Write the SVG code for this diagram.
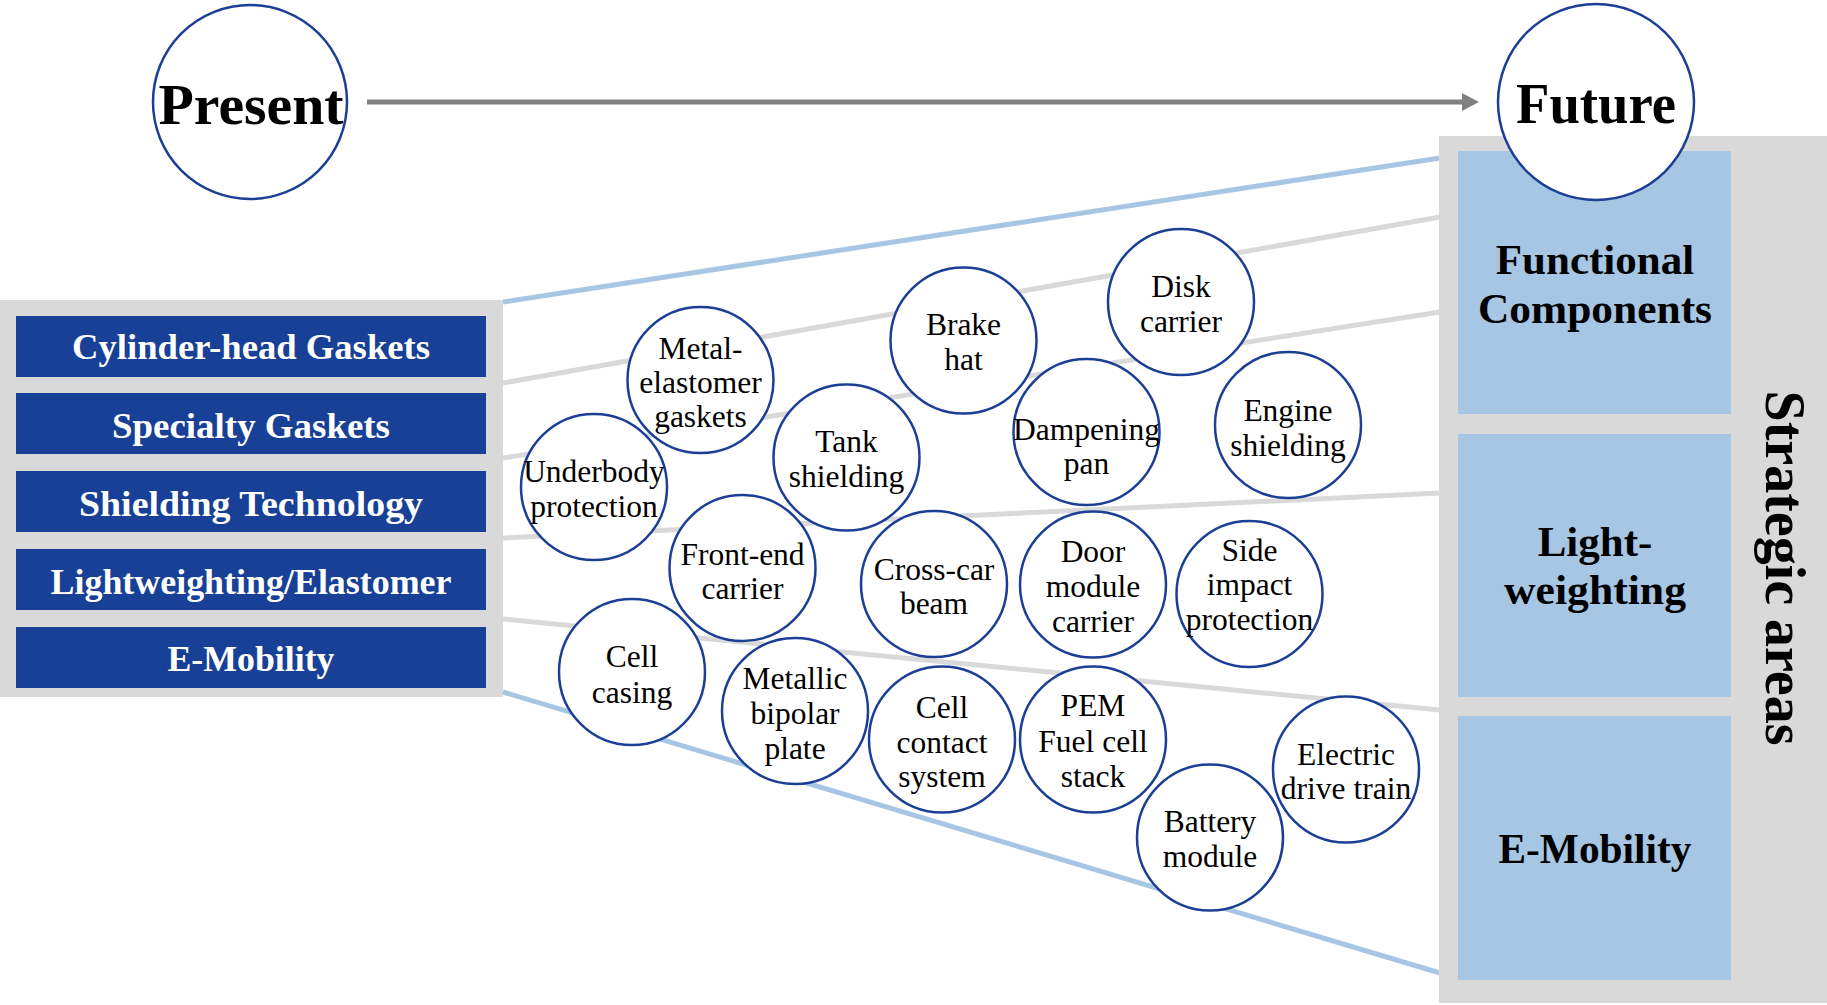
<svg xmlns="http://www.w3.org/2000/svg" width="1827" height="1005" viewBox="0 0 1827 1005">
  <style>
    text { font-family: "Liberation Serif", "Times New Roman", serif; fill: #000; text-anchor: middle; }
    .bg { fill: #D9D9D9; }
    .tech { fill: #174096; }
    .tech-label { fill: #FFFFFF; font-weight: bold; font-size: 35px; }
    .area { fill: #A7C6E3; }
    .area-label { font-weight: bold; font-size: 43px; }
    .time { fill: #FFFFFF; stroke: #1C3F96; stroke-width: 2.5; }
    .time-label { font-weight: bold; font-size: 57px; }
    .item { fill: #FFFFFF; stroke: #1C3F96; stroke-width: 2.5; }
    .item-label { font-size: 31.5px; }
    .conn-gray { stroke: #D9D9D9; stroke-width: 5; fill: none; }
    .conn-blue { stroke: #A7C6E3; stroke-width: 5; fill: none; }
    .timeline { stroke: #808080; stroke-width: 5; fill: none; }
  </style>
  <defs>
    <marker id="arrowhead" markerUnits="userSpaceOnUse" markerWidth="18" markerHeight="18" refX="1" refY="9" orient="auto">
      <path d="M0,0 L17,9 L0,18 Z" fill="#808080"/>
    </marker>
  </defs>

  <!-- funnel connectors between technology stack and strategic areas -->
  <g id="connectors">
    <line class="conn-blue" x1="503" y1="302" x2="1440" y2="158"/>
    <line class="conn-gray" x1="503" y1="383" x2="1440" y2="217"/>
    <line class="conn-gray" x1="503" y1="458" x2="1440" y2="312"/>
    <line class="conn-gray" x1="503" y1="538" x2="1440" y2="493"/>
    <line class="conn-gray" x1="503" y1="619" x2="1440" y2="710"/>
    <line class="conn-blue" x1="503" y1="692" x2="1440" y2="973"/>
    <line class="timeline" x1="367" y1="102" x2="1463" y2="102" marker-end="url(#arrowhead)"/>
  </g>

  <!-- technology stack (left) -->
  <g id="technologies">
    <rect class="bg" x="0" y="300" width="503" height="397"/>
    <g id="tech-cylinder-head">
      <rect class="tech" x="16" y="316" width="470" height="61"/>
      <text class="tech-label" x="251" y="359" textLength="358" lengthAdjust="spacingAndGlyphs">Cylinder-head Gaskets</text>
    </g>
    <g id="tech-specialty">
      <rect class="tech" x="16" y="393" width="470" height="61"/>
      <text class="tech-label" x="251" y="438" textLength="278" lengthAdjust="spacingAndGlyphs">Specialty Gaskets</text>
    </g>
    <g id="tech-shielding">
      <rect class="tech" x="16" y="471" width="470" height="61"/>
      <text class="tech-label" x="251" y="516" textLength="344" lengthAdjust="spacingAndGlyphs">Shielding Technology</text>
    </g>
    <g id="tech-lightweighting">
      <rect class="tech" x="16" y="549" width="470" height="61"/>
      <text class="tech-label" x="251" y="594" textLength="401" lengthAdjust="spacingAndGlyphs">Lightweighting/Elastomer</text>
    </g>
    <g id="tech-emobility">
      <rect class="tech" x="16" y="627" width="470" height="61"/>
      <text class="tech-label" x="251" y="671" textLength="167" lengthAdjust="spacingAndGlyphs">E-Mobility</text>
    </g>
  </g>

  <!-- strategic areas (right) -->
  <g id="strategic-areas">
    <rect class="bg" x="1439" y="136" width="388" height="867"/>
    <g id="area-functional">
      <rect class="area" x="1458" y="151" width="273" height="263"/>
      <text class="area-label" x="1595" y="274">Functional</text>
      <text class="area-label" x="1595" y="323" textLength="234" lengthAdjust="spacingAndGlyphs">Components</text>
    </g>
    <g id="area-lightweighting">
      <rect class="area" x="1458" y="434" width="273" height="263"/>
      <text class="area-label" x="1595" y="556">Light-</text>
      <text class="area-label" x="1595" y="604" textLength="182" lengthAdjust="spacingAndGlyphs">weighting</text>
    </g>
    <g id="area-emobility">
      <rect class="area" x="1458" y="716" width="273" height="264"/>
      <text class="area-label" x="1595" y="863" textLength="193" lengthAdjust="spacingAndGlyphs">E-Mobility</text>
    </g>
    <text class="time-label" transform="translate(1766,568) rotate(90)" x="0" y="0" textLength="355" lengthAdjust="spacingAndGlyphs" style="font-size:56px">Strategic areas</text>
  </g>

  <!-- timeline ends -->
  <g id="present">
    <circle class="time" cx="250" cy="102" r="97"/>
    <text class="time-label" x="251" y="124" textLength="185" lengthAdjust="spacingAndGlyphs">Present</text>
  </g>
  <g id="future">
    <circle class="time" cx="1596" cy="102" r="98"/>
    <text class="time-label" x="1596" y="123" textLength="160" lengthAdjust="spacingAndGlyphs">Future</text>
  </g>

  <!-- product bubbles -->
  <g id="metal-elastomer-gaskets">
    <circle class="item" cx="700.5" cy="380" r="73"/>
    <text class="item-label" x="700.5" y="359">Metal-</text>
    <text class="item-label" x="700.5" y="393">elastomer</text>
    <text class="item-label" x="700.5" y="427">gaskets</text>
  </g>
  <g id="underbody-protection">
    <circle class="item" cx="594" cy="487" r="73"/>
    <text class="item-label" x="594" y="482">Underbody</text>
    <text class="item-label" x="594" y="517">protection</text>
  </g>
  <g id="brake-hat">
    <circle class="item" cx="963.5" cy="340.5" r="73"/>
    <text class="item-label" x="963.5" y="335">Brake</text>
    <text class="item-label" x="963.5" y="370">hat</text>
  </g>
  <g id="tank-shielding">
    <circle class="item" cx="846.5" cy="457.5" r="73"/>
    <text class="item-label" x="846.5" y="452">Tank</text>
    <text class="item-label" x="846.5" y="487">shielding</text>
  </g>
  <g id="disk-carrier">
    <circle class="item" cx="1181" cy="302" r="73"/>
    <text class="item-label" x="1181" y="297">Disk</text>
    <text class="item-label" x="1181" y="332">carrier</text>
  </g>
  <g id="dampening-pan">
    <circle class="item" cx="1086.5" cy="432" r="73"/>
    <text class="item-label" x="1086.5" y="440">Dampening</text>
    <text class="item-label" x="1086.5" y="474">pan</text>
  </g>
  <g id="engine-shielding">
    <circle class="item" cx="1288" cy="425" r="73"/>
    <text class="item-label" x="1288" y="421">Engine</text>
    <text class="item-label" x="1288" y="456">shielding</text>
  </g>
  <g id="front-end-carrier">
    <circle class="item" cx="742.5" cy="568" r="73"/>
    <text class="item-label" x="742.5" y="565">Front-end</text>
    <text class="item-label" x="742.5" y="599">carrier</text>
  </g>
  <g id="cross-car-beam">
    <circle class="item" cx="934" cy="584" r="73"/>
    <text class="item-label" x="934" y="580">Cross-car</text>
    <text class="item-label" x="934" y="614">beam</text>
  </g>
  <g id="door-module-carrier">
    <circle class="item" cx="1093" cy="584.5" r="73"/>
    <text class="item-label" x="1093" y="562">Door</text>
    <text class="item-label" x="1093" y="597">module</text>
    <text class="item-label" x="1093" y="632">carrier</text>
  </g>
  <g id="side-impact-protection">
    <circle class="item" cx="1249.5" cy="594" r="73"/>
    <text class="item-label" x="1249.5" y="561">Side</text>
    <text class="item-label" x="1249.5" y="595">impact</text>
    <text class="item-label" x="1249.5" y="630">protection</text>
  </g>
  <g id="cell-casing">
    <circle class="item" cx="632" cy="672" r="73"/>
    <text class="item-label" x="632" y="667">Cell</text>
    <text class="item-label" x="632" y="703">casing</text>
  </g>
  <g id="metallic-bipolar-plate">
    <circle class="item" cx="795" cy="711" r="73"/>
    <text class="item-label" x="795" y="689">Metallic</text>
    <text class="item-label" x="795" y="724">bipolar</text>
    <text class="item-label" x="795" y="759">plate</text>
  </g>
  <g id="cell-contact-system">
    <circle class="item" cx="942" cy="739.5" r="73"/>
    <text class="item-label" x="942" y="718">Cell</text>
    <text class="item-label" x="942" y="753">contact</text>
    <text class="item-label" x="942" y="787">system</text>
  </g>
  <g id="pem-fuel-cell-stack">
    <circle class="item" cx="1093" cy="739.5" r="73"/>
    <text class="item-label" x="1093" y="716">PEM</text>
    <text class="item-label" x="1093" y="752">Fuel cell</text>
    <text class="item-label" x="1093" y="787">stack</text>
  </g>
  <g id="battery-module">
    <circle class="item" cx="1210" cy="837.5" r="73"/>
    <text class="item-label" x="1210" y="832">Battery</text>
    <text class="item-label" x="1210" y="867">module</text>
  </g>
  <g id="electric-drive-train">
    <circle class="item" cx="1346" cy="769.5" r="73"/>
    <text class="item-label" x="1346" y="765">Electric</text>
    <text class="item-label" x="1346" y="799">drive train</text>
  </g>
</svg>
